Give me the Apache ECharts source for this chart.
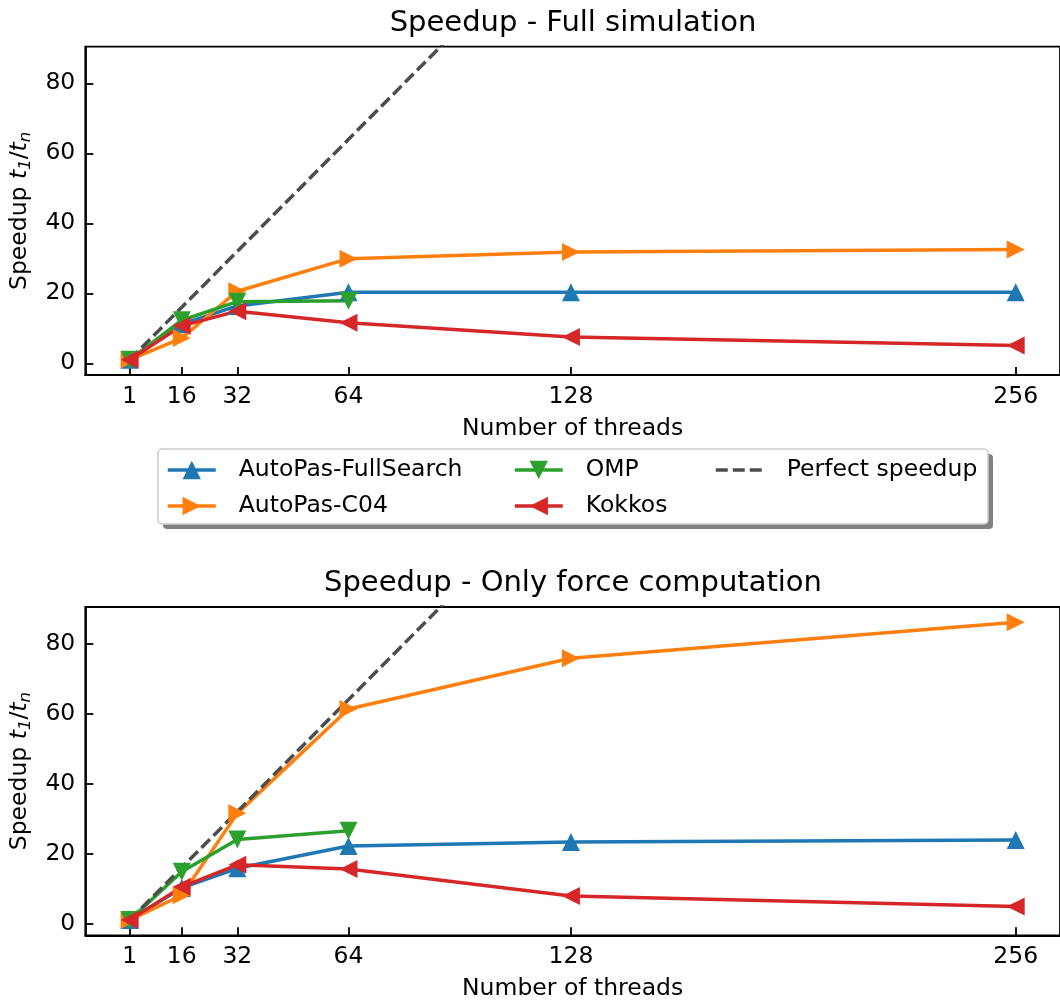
<!DOCTYPE html>
<html>
<head>
<meta charset="utf-8">
<script src="https://cdn.jsdelivr.net/npm/echarts@6/dist/echarts.min.js"></script>
<style>
  html, body { margin: 0; padding: 0; background: #ffffff; }
  #chart { width: 1060px; height: 1003px; }
</style>
</head>
<body>
<div id="chart"></div>
<script>
// Thread counts on the x axis
const threads = [1, 16, 32, 64, 128, 256];
const ompThreads = [1, 16, 32, 64];
const xTicks = [1, 16, 32, 64, 128, 256];
const yTicks = [0, 20, 40, 60, 80];

// Speedup t1/tn, full simulation
const fullSearchFull = [1, 11.2, 16.4, 20.3, 20.3, 20.3];
const c04Full = [1, 7.2, 20.6, 29.9, 31.8, 32.5];
const ompFull = [1, 12.3, 17.6, 17.9];
const kokkosFull = [1, 10.7, 14.9, 11.6, 7.5, 5.1];

// Speedup t1/tn, force computation only
const fullSearchForce = [1, 10.2, 15.8, 22.2, 23.3, 23.9];
const c04Force = [1, 8.1, 31.5, 61.3, 75.8, 86.1];
const ompForce = [1, 14.8, 24.0, 26.5];
const kokkosForce = [1, 10.5, 16.8, 15.6, 7.9, 4.9];

// Ideal linear scaling
const perfect = threads.slice();

const FONT = 'DejaVu Sans';
const LABEL_SIZE = 23.5;
const TITLE_SIZE = 29;
const LW = 3.5;
const MS = 18;

const colors = {
  full: '#1f77b4',
  c04: '#ff7f0e',
  omp: '#2ca02c',
  kokkos: '#d62728',
  perfect: '#4d4d4d'
};

const pair = (xs, ys) => xs.map((x, i) => [x, ys[i]]);

function makeSeries(idx, full, c04, omp, kokkos) {
  const base = {
    type: 'line',
    xAxisIndex: idx,
    yAxisIndex: idx,
    symbol: 'triangle',
    symbolSize: MS,
    showAllSymbol: true,
    clip: true
  };
  const mk = (name, data, color, rot) => Object.assign({}, base, {
    name: name,
    data: data,
    symbolRotate: rot,
    itemStyle: { color: color },
    lineStyle: { color: color, width: LW }
  });
  return [
    mk('AutoPas-FullSearch', pair(threads, full), colors.full, 0),
    mk('AutoPas-C04', pair(threads, c04), colors.c04, -90),
    mk('OMP', pair(ompThreads, omp), colors.omp, 180),
    mk('Kokkos', pair(threads, kokkos), colors.kokkos, 90),
    {
      type: 'line',
      name: 'Perfect speedup',
      xAxisIndex: idx,
      yAxisIndex: idx,
      data: pair(threads, perfect),
      symbol: 'none',
      clip: true,
      itemStyle: { color: colors.perfect },
      lineStyle: { color: colors.perfect, width: LW, type: [12, 5] }
    }
  ];
}

const X_MIN = -11.75, X_MAX = 268.75;
const Y_MIN = -3.34, Y_MAX = 90.46;

function xAxis(idx) {
  return {
    type: 'value',
    gridIndex: idx,
    min: X_MIN,
    max: X_MAX,
    name: 'Number of threads',
    nameLocation: 'middle',
    nameGap: 42,
    nameTextStyle: { fontFamily: FONT, fontSize: LABEL_SIZE, color: '#000' },
    axisLine: { show: true, onZero: false, lineStyle: { color: '#000', width: 1.8 } },
    axisTick: { show: true, inside: true, length: 8, customValues: xTicks,
                lineStyle: { color: '#000', width: 1.8 } },
    axisLabel: { customValues: xTicks, margin: 10, fontFamily: FONT,
                 fontSize: LABEL_SIZE, color: '#000' },
    splitLine: { show: false }
  };
}

function yAxis(idx) {
  return {
    type: 'value',
    gridIndex: idx,
    min: Y_MIN,
    max: Y_MAX,
    name: '{n|Speedup }{i|t}{s|1}{n|/}{i|t}{s|n}',
    nameLocation: 'middle',
    nameRotate: 90,
    nameGap: 40,
    nameTextStyle: {
      fontFamily: FONT, fontSize: LABEL_SIZE, color: '#000',
      rich: {
        n: { fontFamily: FONT, fontSize: LABEL_SIZE, color: '#000', lineHeight: 30 },
        i: { fontFamily: FONT, fontSize: LABEL_SIZE, fontStyle: 'italic', color: '#000', lineHeight: 30 },
        s: { fontFamily: FONT, fontSize: 16.5, fontStyle: 'italic', color: '#000', padding: [12, 0, 0, 0] }
      }
    },
    axisLine: { show: true, onZero: false, lineStyle: { color: '#000', width: 1.8 } },
    axisTick: { show: true, inside: true, length: 8, customValues: yTicks,
                lineStyle: { color: '#000', width: 1.8 } },
    axisLabel: { customValues: yTicks, margin: 10, fontFamily: FONT,
                 fontSize: LABEL_SIZE, color: '#000' },
    splitLine: { show: false }
  };
}

function legendColumn(left, names) {
  return {
    left: left,
    top: 458,
    padding: 0,
    orient: 'vertical',
    data: names,
    selectedMode: false,
    itemWidth: 48,
    itemHeight: 23,
    itemGap: 12,
    z: 10,
    lineStyle: { width: LW },
    textStyle: { fontFamily: FONT, fontSize: LABEL_SIZE, color: '#000',
                 lineHeight: 24, padding: [0, 0, 0, 18] }
  };
}

const chart = echarts.init(document.getElementById('chart'), null, { renderer: 'canvas' });

chart.setOption({
  animation: false,
  backgroundColor: '#ffffff',
  title: [
    { text: 'Speedup - Full simulation', left: 573, top: 9, textAlign: 'center', padding: 0,
      textStyle: { fontFamily: FONT, fontSize: TITLE_SIZE, fontWeight: 'normal', color: '#000' } },
    { text: 'Speedup - Only force computation', left: 573, top: 569, textAlign: 'center', padding: 0,
      textStyle: { fontFamily: FONT, fontSize: TITLE_SIZE, fontWeight: 'normal', color: '#000' } }
  ],
  grid: [
    { left: 83, top: 46.7, width: 979.5, height: 328.3, show: true,
      borderColor: '#000', borderWidth: 1.8, backgroundColor: 'transparent' },
    { left: 83, top: 607, width: 979.5, height: 328.3, show: true,
      borderColor: '#000', borderWidth: 1.8, backgroundColor: 'transparent' }
  ],
  xAxis: [xAxis(0), xAxis(1)],
  yAxis: [yAxis(0), yAxis(1)],
  legend: [
    legendColumn(166, ['AutoPas-FullSearch', 'AutoPas-C04']),
    legendColumn(513, ['OMP', 'Kokkos']),
    legendColumn(714, [{ name: 'Perfect speedup', itemStyle: { opacity: 0 } }])
  ],
  graphic: [
    { type: 'rect', z: 1, silent: true,
      shape: { x: 163, y: 454, width: 830, height: 75, r: 4 },
      style: { fill: '#808080', stroke: null } },
    { type: 'rect', z: 2, silent: true,
      shape: { x: 158, y: 449, width: 830, height: 75, r: 4 },
      style: { fill: '#ffffff', stroke: '#cccccc', lineWidth: 1.5 } }
  ],
  series: [].concat(
    makeSeries(0, fullSearchFull, c04Full, ompFull, kokkosFull),
    makeSeries(1, fullSearchForce, c04Force, ompForce, kokkosForce)
  )
});
</script>
</body>
</html>
